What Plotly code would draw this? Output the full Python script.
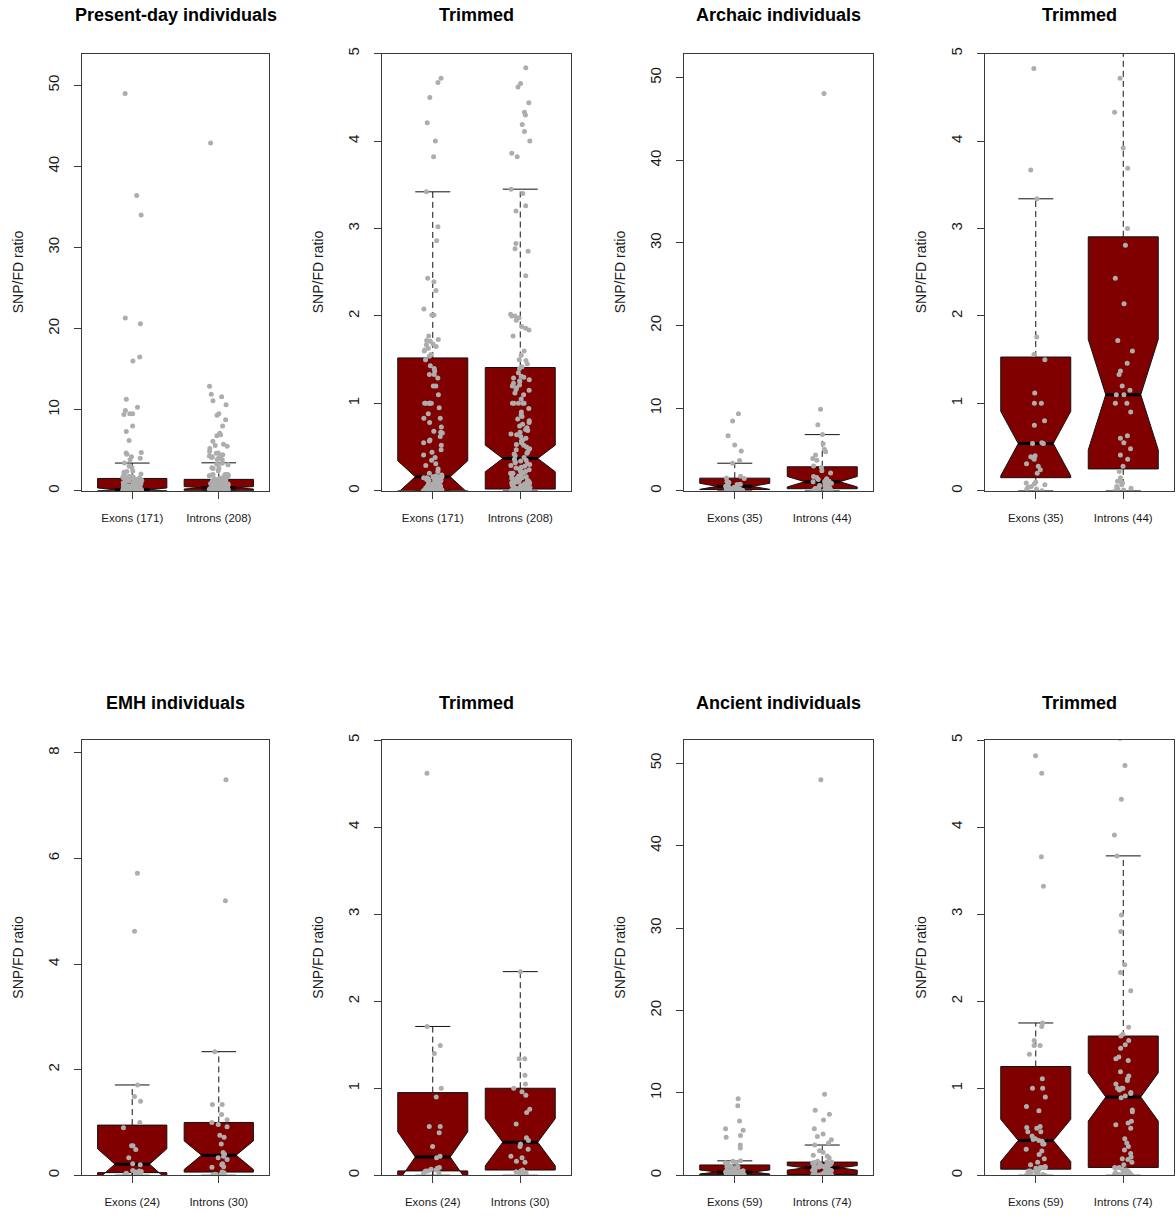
import numpy as np
import plotly.graph_objects as go

# ---- SNP/FD ratios per gene, sorted ascending ----
present_exons = [
    0, 0, 0, 0, 0, 0, 0, 0, 0, 0, 0, 0, 0, 0, 0, 0, 0, 0, 0, 0, 0, 0,
    0, 0, 0, 0, 0, 0, 0, 0, 0, 0, 0, 0, 0, 0, 0, 0, 0, 0, 0, 0, 0, 0,
    0.01, 0.01, 0.01, 0.02, 0.02, 0.02, 0.02, 0.03, 0.03, 0.03, 0.04, 0.04, 0.04, 0.05,
    0.05, 0.05, 0.06, 0.06, 0.07, 0.07, 0.08, 0.08, 0.08, 0.09, 0.09, 0.10, 0.10, 0.11,
    0.11, 0.12, 0.12, 0.12, 0.13, 0.13, 0.14, 0.14, 0.15, 0.15, 0.15, 0.16, 0.16, 0.16,
    0.17, 0.18, 0.20, 0.22, 0.25, 0.29, 0.31, 0.35, 0.38, 0.41, 0.44, 0.47, 0.52, 0.55,
    0.57, 0.58, 0.62, 0.66, 0.67, 0.68, 0.73, 0.78, 0.83, 0.83, 0.88, 0.95, 1.0, 1.0,
    1.0, 1.0, 1.0, 1.0, 1.10, 1.20, 1.20, 1.29, 1.33, 1.33, 1.37, 1.40, 1.43, 1.50,
    1.54, 1.56, 1.60, 1.61, 1.63, 1.65, 1.67, 1.68, 1.71, 1.72, 1.73, 1.77, 2.01, 2.01,
    2.08, 2.29, 2.39, 2.43, 2.86, 3.02, 3.42, 3.82, 4.00, 4.21, 4.50, 4.67, 4.72, 6.2,
    7.3, 8.0, 9.4, 9.5, 9.5, 9.9, 10.3, 11.3, 16.0, 16.5, 20.6, 21.3, 34.0, 36.4, 49.0,
]
present_introns = [
    0, 0, 0, 0, 0, 0, 0, 0, 0, 0, 0, 0, 0, 0, 0, 0, 0, 0, 0, 0,
    0, 0, 0, 0, 0, 0, 0, 0, 0, 0, 0, 0, 0, 0, 0, 0, 0, 0, 0, 0,
    0.01, 0.01, 0.01, 0.01, 0.01, 0.01, 0.02, 0.02, 0.02, 0.02, 0.02, 0.02,
    0.02, 0.03, 0.03, 0.03, 0.04, 0.04, 0.04, 0.05, 0.05, 0.05, 0.06, 0.06, 0.06, 0.07,
    0.07, 0.08, 0.08, 0.09, 0.09, 0.10, 0.10, 0.11, 0.11, 0.12, 0.12, 0.13, 0.14, 0.14,
    0.15, 0.16, 0.16, 0.17, 0.18, 0.19, 0.20, 0.20, 0.21, 0.22, 0.23, 0.24, 0.25, 0.26,
    0.27, 0.28, 0.29, 0.30, 0.31, 0.32, 0.33, 0.34, 0.35, 0.36,
    0.38, 0.40, 0.42, 0.43, 0.45, 0.47, 0.48, 0.50, 0.52, 0.53, 0.55, 0.57, 0.58, 0.60,
    0.62, 0.64, 0.65, 0.67, 0.69, 0.70, 0.72, 0.74, 0.76, 0.78, 0.80, 0.82, 0.85, 0.87,
    0.90, 0.94, 1.0, 1.0, 1.0, 1.0, 1.0, 1.05, 1.10, 1.12, 1.15, 1.16, 1.18, 1.20,
    1.21, 1.23, 1.25, 1.26, 1.27, 1.29, 1.30, 1.31, 1.35, 1.40,
    1.42, 1.45, 1.49, 1.50, 1.55, 1.60, 1.77, 1.84, 1.86, 1.88, 1.95, 1.98, 2.00, 2.00,
    2.02, 2.46, 2.74, 2.77, 2.83, 3.20, 3.26, 3.40, 3.45, 3.82, 3.86, 4.00, 4.11, 4.19,
    4.30, 4.33, 4.44, 4.62, 4.66, 4.84, 5.2, 5.5, 5.6, 5.75, 6.1, 6.8, 6.9, 7.1,
    8.0, 8.75, 9.3, 9.5, 10.6, 11.1, 11.6, 11.9, 12.9, 42.9,
]
archaic_exons = [
    0.0, 0.02, 0.02, 0.04, 0.05, 0.07, 0.08, 0.09, 0.10, 0.20, 0.24, 0.28, 0.31, 0.36,
    0.38, 0.39, 0.40, 0.54, 0.54, 0.55, 0.75, 0.80, 1.0, 1.0, 1.12, 1.50, 1.56, 1.76,
    3.34, 3.67, 4.83, 5.53, 6.67, 8.44, 9.34,
]
archaic_introns = [
    0.0, 0.01, 0.02, 0.03, 0.05, 0.07, 0.09, 0.10, 0.11, 0.15, 0.22, 0.28, 0.36, 0.41,
    0.48, 0.55, 0.60, 0.63, 0.90, 1.0, 1.0, 1.10, 1.10, 1.15, 1.20, 1.33, 1.37, 1.46,
    1.60, 1.72, 2.14, 2.43, 2.81, 3.0, 3.69, 3.92, 4.33, 4.72, 5.04, 5.7, 6.8, 7.99,
    9.87, 48.1,
]
emh_exons = [
    0.0, 0.01, 0.02, 0.03, 0.04, 0.05, 0.05, 0.06, 0.07, 0.08, 0.09, 0.20, 0.22, 0.33,
    0.49, 0.56, 0.56, 0.90, 1.0, 1.40, 1.49, 1.71, 4.62, 5.72,
]
emh_introns = [
    0.0, 0.01, 0.01, 0.02, 0.03, 0.04, 0.05, 0.06, 0.15, 0.16, 0.20, 0.22, 0.30, 0.33,
    0.36, 0.40, 0.43, 0.59, 0.72, 0.76, 0.92, 0.96, 1.0, 1.05, 1.15, 1.34, 1.34, 2.34,
    5.20, 7.49,
]
ancient_exons = [
    0.0, 0.0, 0.0, 0.0, 0.0, 0.0, 0.01, 0.02, 0.02, 0.03, 0.03, 0.04, 0.05, 0.05, 0.06,
    0.08, 0.09, 0.09, 0.09, 0.10, 0.12, 0.15, 0.19, 0.24, 0.28, 0.30, 0.36, 0.36, 0.39,
    0.40,
    0.41, 0.42, 0.45, 0.50, 0.50, 0.54, 0.55, 0.56, 0.74, 0.79, 0.90, 1.0, 1.0, 1.11,
    1.39, 1.49, 1.49, 1.55, 1.71, 1.75, 3.32, 3.66, 4.62, 4.82, 5.45, 5.66, 6.58, 8.45,
    9.28,
]
ancient_introns = [
    0.0, 0.0, 0.0, 0.0, 0.0, 0.01, 0.01, 0.01, 0.02, 0.02, 0.03, 0.03, 0.04, 0.04, 0.05,
    0.06, 0.07, 0.08, 0.09,
    0.09, 0.12, 0.15, 0.18, 0.19, 0.21, 0.25, 0.29, 0.33, 0.37, 0.42, 0.54, 0.58, 0.60,
    0.62, 0.73, 0.75, 0.89,
    0.91, 0.94, 0.95, 0.98, 1.0, 1.0, 1.0, 1.05, 1.09, 1.11, 1.14, 1.19, 1.32, 1.34,
    1.36, 1.46, 1.50, 1.55, 1.60,
    1.62, 1.70, 2.12, 2.33, 2.42, 2.80, 2.99, 3.67, 3.91, 4.32, 4.71, 5.02, 5.66, 6.7,
    7.41, 7.9, 9.83, 48.0,
]

groups = ["Present-day individuals", "Archaic individuals", "EMH individuals", "Ancient individuals"]
group_data = [
    (present_exons, present_introns),
    (archaic_exons, archaic_introns),
    (emh_exons, emh_introns),
    (ancient_exons, ancient_introns),
]
full_tick_step = [10, 10, 2, 10]
region_names = ["Exons", "Introns"]
trimmed_title = "Trimmed"
trim_limit = 5
y_title = "SNP/FD ratio"

# ---- styling ----
W, H = 1176, 1218
BOX_RED = "#800000"
POINT_GREY = "#ADADAD"
INK = "#1a1a1a"
FRAME = "#3a3a3a"
FONT = "Liberation Sans, Arial, Helvetica, sans-serif"
COLS_PX = [(82, 269), (382, 571), (684, 873), (985, 1174)]
ROWS_PX = [(48, 488), (739, 1177)]
TITLE_Y = [9, 702]
BOX_HALF = 0.4          # boxwex 0.8
CAP_HALF = 0.2          # staples are half the box width
JIT = 0.11


def fivenum(v):
    x = np.sort(np.asarray(v, dtype=float))
    n = len(x)
    n4 = np.floor((n + 3) / 2) / 2
    d = np.array([1, n4, (n + 1) / 2, n + 1 - n4, n]) - 1
    return 0.5 * (x[np.floor(d).astype(int)] + x[np.ceil(d).astype(int)])


def box_stats(v):
    x = np.asarray(v, dtype=float)
    s = fivenum(x)
    iqr = s[3] - s[1]
    keep = x[(x >= s[1] - 1.5 * iqr) & (x <= s[3] + 1.5 * iqr)]
    return dict(lo=keep.min(), q1=s[1], med=s[2], q3=s[3], hi=keep.max(),
                notch=1.58 * iqr / np.sqrt(len(x)))


def jitter(n, seed):
    # deterministic hash spread in [-JIT, JIT] (horizontal strip-chart offset)
    k = np.arange(1, n + 1)
    h = np.sin(k * 12.9898 + seed * 78.233) * 43758.5453
    return (h - np.floor(h)) * 2.0 * JIT - JIT


def px_x(p):
    return p / W


def px_y(p):
    return 1 - p / H


fig = go.Figure()
layout = dict(
    width=W, height=H, margin=dict(l=0, r=0, t=0, b=0),
    paper_bgcolor="white", plot_bgcolor="white", showlegend=False,
    font=dict(family=FONT, color=INK),
)
annotations = []

panel = 0
for gi, (name, (exons, introns)) in enumerate(zip(groups, group_data)):
    for trimmed in (False, True):
        panel += 1
        row, col = divmod(panel - 1, 4)
        xa, ya = f"x{panel}", f"y{panel}"
        xkey, ykey = f"xaxis{panel}", f"yaxis{panel}"
        sets = [exons, introns]
        stats = [box_stats(s) for s in sets]
        pos = [1, 2]

        if trimmed:
            top = trim_limit
            tickvals = list(range(0, trim_limit + 1))
        else:
            top = 1.1 * max(max(exons), max(introns))
            step = full_tick_step[gi]
            tickvals = list(np.arange(0, top, step))

        # box body with notch
        fig.add_trace(go.Box(
            x=pos, orientation="v",
            q1=[s["q1"] for s in stats], median=[s["med"] for s in stats],
            q3=[s["q3"] for s in stats],
            lowerfence=[s["q1"] for s in stats], upperfence=[s["q3"] for s in stats],
            notchspan=[s["notch"] for s in stats], notched=True, notchwidth=0.25,
            width=2 * BOX_HALF, whiskerwidth=0, boxpoints=False,
            fillcolor=BOX_RED, line=dict(color="#111111", width=1),
            hoverinfo="skip", xaxis=xa, yaxis=ya,
        ))
        # dashed whiskers
        wx, wy = [], []
        for p, s in zip(pos, stats):
            wx += [p, p, None, p, p, None]
            wy += [s["q3"], s["hi"], None, s["q1"], s["lo"], None]
        fig.add_trace(go.Scatter(
            x=wx, y=wy, mode="lines", line=dict(color="#111111", width=1, dash="6px,4px"),
            hoverinfo="skip", xaxis=xa, yaxis=ya,
        ))
        # staples
        cx, cy = [], []
        for p, s in zip(pos, stats):
            for v in (s["hi"], s["lo"]):
                cx += [p - CAP_HALF, p + CAP_HALF, None]
                cy += [v, v, None]
        fig.add_trace(go.Scatter(
            x=cx, y=cy, mode="lines", line=dict(color="#111111", width=1),
            hoverinfo="skip", xaxis=xa, yaxis=ya,
        ))
        # thick medians
        mx, my = [], []
        for p, s in zip(pos, stats):
            mx += [p - CAP_HALF, p + CAP_HALF, None]
            my += [s["med"], s["med"], None]
        fig.add_trace(go.Scatter(
            x=mx, y=my, mode="lines", line=dict(color="black", width=3),
            hoverinfo="skip", xaxis=xa, yaxis=ya,
        ))
        # jittered points on top
        for j, (p, vals) in enumerate(zip(pos, sets)):
            offs = jitter(len(vals), panel + 0.5 * j)
            fig.add_trace(go.Scatter(
                x=p + offs, y=vals, mode="markers",
                marker=dict(size=5, color=POINT_GREY, line=dict(width=0)),
                hoverinfo="skip", xaxis=xa, yaxis=ya,
            ))

        x0, x1 = COLS_PX[col]
        y0, y1 = ROWS_PX[row]
        ticktext = [f"{r} ({len(s)})" for r, s in zip(region_names, sets)]
        layout[xkey] = dict(
            domain=[px_x(x0), px_x(x1)], anchor=ya, range=[0.42, 2.58],
            tickvals=pos, ticktext=ticktext, ticks="outside", ticklen=7,
            tickcolor=FRAME, tickfont=dict(size=11.5, color=INK),
            ticklabelstandoff=9,
            showline=True, mirror=True, linecolor=FRAME, linewidth=1,
            showgrid=False, zeroline=False, fixedrange=True,
        )
        layout[ykey] = dict(
            domain=[px_y(y1), px_y(y0)], anchor=xa, range=[0, top],
            tickvals=tickvals, ticktext=[f"{v:g}" for v in tickvals],
            tickangle=-90, ticks="outside", ticklen=7, tickcolor=FRAME,
            tickfont=dict(size=15, color=INK), ticklabelstandoff=9,
            showline=True, mirror=True, linecolor=FRAME, linewidth=1,
            showgrid=False, zeroline=False, fixedrange=True,
        )

        title = trimmed_title if trimmed else name
        annotations.append(dict(
            text=f"<b>{title}</b>", x=px_x((x0 + x1) / 2), y=px_y(TITLE_Y[row]),
            xref="paper", yref="paper", xanchor="center", yanchor="middle",
            showarrow=False, font=dict(size=18, color="black", family=FONT),
        ))
        annotations.append(dict(
            text=y_title, x=px_x(x0 - 64), y=px_y((y0 + y1) / 2),
            xref="paper", yref="paper", xanchor="center", yanchor="middle",
            textangle=-90, showarrow=False, font=dict(size=14, color=INK, family=FONT),
        ))

layout["annotations"] = annotations
fig.update_layout(**layout)
fig.write_html("out.html")
